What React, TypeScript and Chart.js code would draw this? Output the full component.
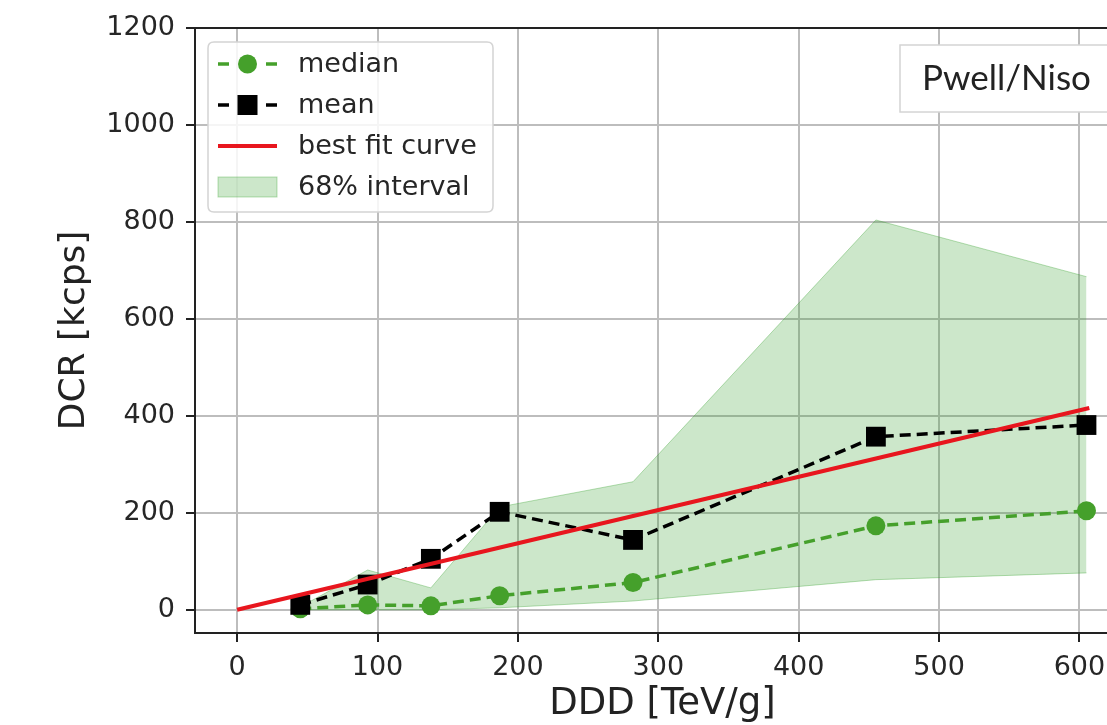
import React, { useEffect, useRef } from "react";
import { Chart, registerables } from "chart.js";

Chart.register(...registerables);

// ---- data ----
const xValues = [45, 93, 138, 187, 282, 455, 605];
const medianValues = [2, 10, 8, 29, 56, 173, 204];
const meanValues = [10, 52, 105, 202, 144, 357, 381];
const bandLower = [0, 0, 0, 4, 18, 62, 76];
const bandUpper = [6, 82, 45, 212, 264, 804, 687];
const fitX = [0, 607];
const fitY = [0, 416];
const xTickValues = [0, 100, 200, 300, 400, 500, 600];
const yTickValues = [0, 200, 400, 600, 800, 1000, 1200];
const legendLabels = ["median", "mean", "best fit curve", "68% interval"];
const panelLabel = "Pwell/Niso";
const xTitle = "DDD [TeV/g]";
const yTitle = "DCR [kcps]";

const GREEN = "#45a02b";
const RED = "#e8161e";
const BAND = "rgba(52,160,44,0.25)";
const BAND_EDGE = "rgba(52,160,44,0.35)";
const GRID = "#bdbdbd";
const FONT = "'DejaVu Sans', sans-serif";

// the reference is cropped on the right: the canvas is a bit wider than the frame
const CANVAS_W = 1130;
const CANVAS_H = 725;

const pts = (xs: number[], ys: number[]) => xs.map((x, i) => ({ x, y: ys[i] }));

const overlayPlugin = {
  id: "overlay",
  afterDraw(chart: any) {
    const { ctx, chartArea } = chart;
    const { left, top, right } = chartArea;
    ctx.save();
    // top spine
    ctx.strokeStyle = "#222";
    ctx.lineWidth = 2;
    ctx.beginPath();
    ctx.moveTo(left - 1, top);
    ctx.lineTo(right + 2, top);
    ctx.stroke();

    // legend box
    const bx = left + 13;
    const by = top + 14;
    const bw = 285;
    const bh = 170;
    const r = 6;
    ctx.beginPath();
    ctx.moveTo(bx + r, by);
    ctx.lineTo(bx + bw - r, by);
    ctx.quadraticCurveTo(bx + bw, by, bx + bw, by + r);
    ctx.lineTo(bx + bw, by + bh - r);
    ctx.quadraticCurveTo(bx + bw, by + bh, bx + bw - r, by + bh);
    ctx.lineTo(bx + r, by + bh);
    ctx.quadraticCurveTo(bx, by + bh, bx, by + bh - r);
    ctx.lineTo(bx, by + r);
    ctx.quadraticCurveTo(bx, by, bx + r, by);
    ctx.closePath();
    ctx.fillStyle = "rgba(255,255,255,0.85)";
    ctx.fill();
    ctx.strokeStyle = "#d4d4d4";
    ctx.lineWidth = 1.5;
    ctx.stroke();

    const hx0 = bx + 10;
    const hx1 = bx + 69;
    const hc = (hx0 + hx1) / 2;
    const rows = [by + 22, by + 63, by + 104, by + 145];
    const tx = bx + 90;

    // median handle
    ctx.strokeStyle = GREEN;
    ctx.lineWidth = 3.5;
    ctx.beginPath();
    ctx.moveTo(hx0, rows[0]);
    ctx.lineTo(hx0 + 11, rows[0]);
    ctx.moveTo(hx1 - 11, rows[0]);
    ctx.lineTo(hx1, rows[0]);
    ctx.stroke();
    ctx.fillStyle = GREEN;
    ctx.beginPath();
    ctx.arc(hc, rows[0], 9.5, 0, Math.PI * 2);
    ctx.fill();

    // mean handle
    ctx.strokeStyle = "#000";
    ctx.beginPath();
    ctx.moveTo(hx0, rows[1]);
    ctx.lineTo(hx0 + 11, rows[1]);
    ctx.moveTo(hx1 - 11, rows[1]);
    ctx.lineTo(hx1, rows[1]);
    ctx.stroke();
    ctx.fillStyle = "#000";
    ctx.fillRect(hc - 10, rows[1] - 10, 20, 20);

    // fit handle
    ctx.strokeStyle = RED;
    ctx.lineWidth = 4;
    ctx.beginPath();
    ctx.moveTo(hx0, rows[2]);
    ctx.lineTo(hx1, rows[2]);
    ctx.stroke();

    // band handle
    ctx.fillStyle = BAND;
    ctx.fillRect(hx0, rows[3] - 10, hx1 - hx0, 20);
    ctx.strokeStyle = BAND_EDGE;
    ctx.lineWidth = 1;
    ctx.strokeRect(hx0, rows[3] - 10, hx1 - hx0, 20);

    ctx.fillStyle = "#262626";
    ctx.font = `27px ${FONT}`;
    ctx.textBaseline = "middle";
    ctx.textAlign = "left";
    legendLabels.forEach((t, i) => ctx.fillText(t, tx, rows[i] + 1));

    // panel label box
    const px = left + 705;
    const py = top + 17;
    ctx.fillStyle = "#ffffff";
    ctx.fillRect(px, py, 260, 67);
    ctx.strokeStyle = "#d4d4d4";
    ctx.lineWidth = 1.5;
    ctx.strokeRect(px, py, 260, 67);
    ctx.fillStyle = "#222";
    ctx.font = `35px Lato, 'Open Sans', sans-serif`;
    ctx.textBaseline = "alphabetic";
    ctx.fillText(panelLabel, px + 22, py + 45);
    ctx.restore();
  },
};

export default function App() {
  const ref = useRef<HTMLCanvasElement | null>(null);
  useEffect(() => {
    if (!ref.current) return;
    const chart = new Chart(ref.current, {
      type: "line",
      data: {
        datasets: [
          { label: "band-lower", data: pts(xValues, bandLower), borderColor: BAND_EDGE, borderWidth: 1, pointRadius: 0, pointHoverRadius: 0, fill: false, order: 5 },
          { label: legendLabels[3], data: pts(xValues, bandUpper), borderColor: BAND_EDGE, borderWidth: 1, backgroundColor: BAND, pointRadius: 0, pointHoverRadius: 0, fill: "-1", order: 4 },
          { label: legendLabels[0], data: pts(xValues, medianValues), borderColor: GREEN, backgroundColor: GREEN, borderWidth: 3.5, borderDash: [11, 6], pointStyle: "circle", pointRadius: 9.5, pointHoverRadius: 9.5, pointBorderWidth: 0, fill: false, order: 3 },
          { label: legendLabels[1], data: pts(xValues, meanValues), borderColor: "#000", backgroundColor: "#000", borderWidth: 3.5, borderDash: [11, 6], pointStyle: "rect", pointRadius: 14, pointHoverRadius: 14, pointBorderWidth: 0, fill: false, order: 2 },
          { label: legendLabels[2], data: pts(fitX, fitY), borderColor: RED, borderWidth: 4, pointRadius: 0, pointHoverRadius: 0, fill: false, order: 1 },
        ],
      },
      options: {
        responsive: false,
        animation: false,
        layout: { autoPadding: false, padding: { top: 28, right: 0, left: 0, bottom: 0 } },
        plugins: { legend: { display: false }, tooltip: { enabled: false } },
        scales: {
          x: {
            type: "linear",
            min: -30,
            max: 636,
            afterBuildTicks: (s: any) => { s.ticks = xTickValues.map((v) => ({ value: v })); },
            afterFit: (s: any) => { s.height = 92; s.paddingRight = 0; s.paddingLeft = 0; },
            grid: { color: GRID, lineWidth: 2, tickColor: "#222", tickLength: 9, tickWidth: 2 },
            border: { color: "#222", width: 2 },
            ticks: { color: "#262626", font: { family: FONT, size: 27 }, padding: 10, maxRotation: 0, callback: (v: any) => String(v) },
            title: { display: true, text: xTitle, color: "#222", font: { family: FONT, size: 37, lineHeight: 1 }, padding: { top: 0, bottom: 2 } },
          },
          y: {
            type: "linear",
            min: -48,
            max: 1200,
            afterBuildTicks: (s: any) => { s.ticks = yTickValues.map((v) => ({ value: v })); },
            afterFit: (s: any) => { s.width = 195; },
            grid: { color: GRID, lineWidth: 2, tickColor: "#222", tickLength: 9, tickWidth: 2 },
            border: { color: "#222", width: 2 },
            ticks: { color: "#262626", font: { family: FONT, size: 27 }, padding: 11, callback: (v: any) => String(v) },
            title: { display: true, text: yTitle, color: "#222", font: { family: FONT, size: 36, lineHeight: 1 }, padding: { top: 57, bottom: 0 } },
          },
        },
      },
      plugins: [overlayPlugin],
    });
    return () => chart.destroy();
  }, []);

  return (
    <div style={{ position: "absolute", left: 0, top: 0, width: 1107, height: CANVAS_H, background: "#fff", overflow: "hidden" }}>
      <canvas ref={ref} width={CANVAS_W} height={CANVAS_H} style={{ display: "block" }} />
    </div>
  );
}
